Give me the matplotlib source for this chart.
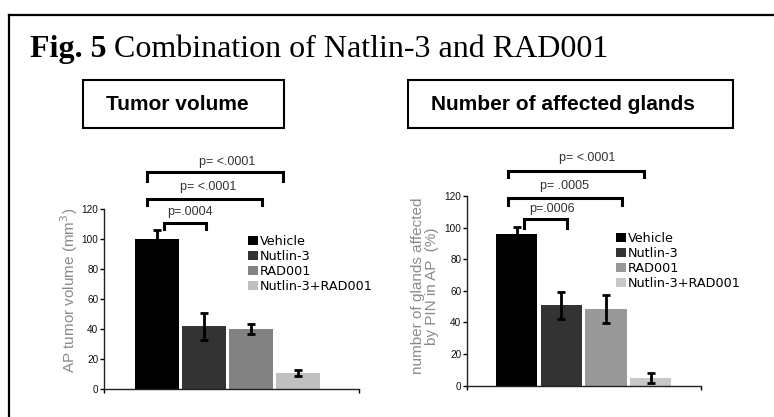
import matplotlib
matplotlib.use("Agg")
import matplotlib.pyplot as plt
from matplotlib.patches import Rectangle
from matplotlib.lines import Line2D
import numpy as np

# data
groups = ['Vehicle', 'Nutlin-3', 'RAD001', 'Nutlin-3+RAD001']
tumor_volume = [100, 42, 40, 11]
tumor_err = [6, 9, 3.5, 2]
glands_pct = [96, 51, 48.5, 5]
glands_err = [4.5, 8.5, 8.7, 3]

colors_left = ['#000000', '#333333', '#828282', '#c0c0c0']
colors_right = ['#000000', '#333333', '#999999', '#c8c8c8']

# (x0, x1, top, leg bottom, label, text x, text y) in data units
brackets_left = [
    (0.15, 1.04, 111, 107, 'p=.0004', 0.70, 118),
    (-0.21, 2.23, 126.7, 122.7, 'p= <.0001', 1.09, 134.7),
    (-0.21, 2.68, 144.7, 139, 'p= <.0001', 1.49, 151.3),
]
brackets_right = [
    (0.17, 1.12, 105.5, 99.8, 'p=.0006', 0.79, 111.5),
    (-0.20, 2.35, 118.8, 114, 'p= .0005', 1.08, 126.6),
    (-0.20, 2.84, 136, 132, 'p= <.0001', 1.57, 144),
]

W, H = 774, 417
fig = plt.figure(figsize=(W / 100, H / 100), dpi=100)


def fx(px):
    return px / W


def fy(py):
    return 1 - py / H


def draw_panel(rect, values, errs, colors, brackets, xlim, ylabel, lab_x, lab_y, leg_xy):
    ax = fig.add_axes(rect)
    x = np.arange(len(values))
    bars = ax.bar(x, values, width=0.93, color=colors, edgecolor='none')
    ax.errorbar(x, values, yerr=errs, fmt='none', ecolor='black',
                elinewidth=2, capsize=3, capthick=2)
    ax.set_xlim(*xlim)
    ax.set_ylim(0, 120)
    ax.set_yticks(np.arange(0, 121, 20))
    ax.set_xticks(list(xlim))
    ax.set_xticklabels([])
    for s in ['top', 'right']:
        ax.spines[s].set_visible(False)
    for s in ['left', 'bottom']:
        ax.spines[s].set_linewidth(1)
        ax.spines[s].set_color('#222222')
    ax.tick_params(axis='y', direction='out', length=3, width=1, pad=1,
                   labelsize=7.2, labelcolor='#111111')
    ax.tick_params(axis='x', direction='out', length=3, width=1)
    for lab in ax.get_yticklabels():
        lab.set_family('Liberation Sans')

    ax.set_ylabel(ylabel, fontsize=11, color='#8a8a8a', family='Liberation Sans',
                  va='center', linespacing=1.0)
    ax.yaxis.set_label_coords(lab_x, lab_y)

    for x0, x1, top, leg, label, tx, ty in brackets:
        ax.plot([x0, x0, x1, x1], [leg, top, top, leg], color='black', lw=2.2,
                clip_on=False, solid_joinstyle='miter')
        ax.text(tx, ty, label, ha='center', va='center', fontsize=9,
                family='Liberation Sans', color='#333333', clip_on=False)

    ax.legend(bars, groups, loc='upper left', bbox_to_anchor=leg_xy,
              bbox_transform=fig.transFigure, frameon=False, borderpad=0,
              borderaxespad=0, handlelength=0.75, handleheight=0.75,
              handletextpad=0.2, labelspacing=0.15,
              prop={'family': 'DejaVu Sans', 'size': 9.2})
    return ax


draw_panel([fx(104), fy(389), fx(255), 180 / H], tumor_volume, tumor_err,
           colors_left, brackets_left, (-1.13, 4.30),
           'AP tumor volume (mm$^3$)', -0.136, 0.55, (fx(248), fy(235)))
draw_panel([fx(467), fy(385.7), fx(233.7), 189.7 / H], glands_pct, glands_err,
           colors_right, brackets_right, (-1.11, 4.12),
           'number of glands affected\nby PIN in AP  (%)', -0.18, 0.526,
           (fx(616), fy(232)))

# outer frame (top and left edge only)
fig.add_artist(Line2D([fx(9), 1], [fy(15), fy(15)], color='black', lw=1.6))
fig.add_artist(Line2D([fx(9), fx(9)], [0, fy(15)], color='black', lw=1.6))

# main title: bold figure number followed by regular text
t1 = fig.text(fx(30), fy(57), 'Fig. 5', fontsize=23, fontweight='bold',
              family='Liberation Serif', va='baseline')
renderer = fig.canvas.get_renderer()
bb = t1.get_window_extent(renderer)
fig.text(bb.x1 / W + fx(7), fy(57), 'Combination of Natlin-3 and RAD001',
         fontsize=23, family='Liberation Serif', va='baseline')

# panel title boxes
for (x0, x1, tx, label) in [(83, 284, 177.5, 'Tumor volume'),
                            (408, 733, 563, 'Number of affected glands')]:
    fig.add_artist(Rectangle((fx(x0), fy(128)), fx(x1 - x0), 48 / H, fill=False,
                             lw=1.5, edgecolor='black', transform=fig.transFigure))
    fig.text(fx(tx), fy(104), label, ha='center', va='center', fontsize=15,
             fontweight='bold', family='Liberation Sans')

fig.savefig('out.png', dpi=100)
